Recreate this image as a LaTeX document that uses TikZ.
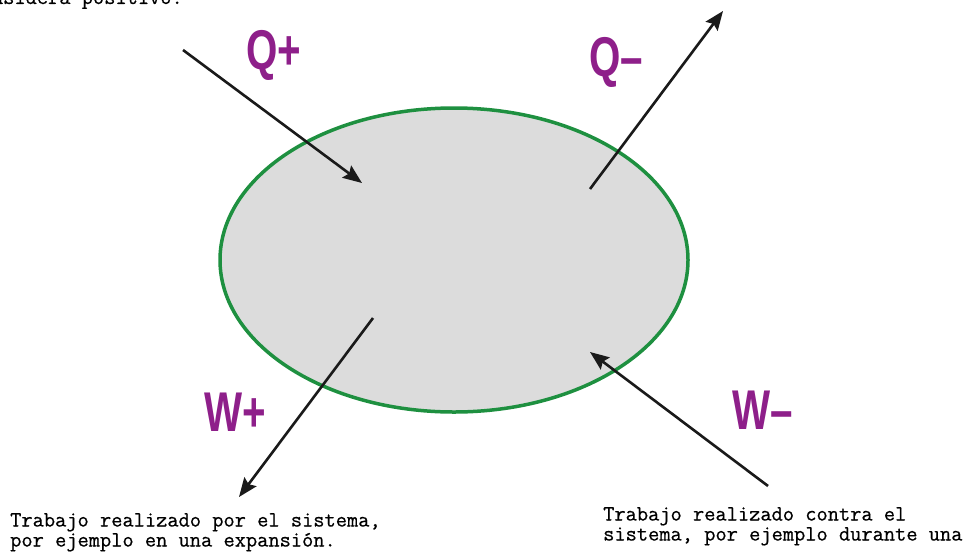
\documentclass[tikz,border=0pt]{standalone}
\usepackage{fontspec}
\usepackage{graphicx}
\usetikzlibrary{arrows.meta,shapes.geometric}
\newfontfamily\lblfont{Liberation Sans}
\newfontfamily\bodyfont[FakeBold=0.6]{Latin Modern Mono}
\definecolor{sysgreen}{HTML}{1E9040}
\definecolor{sysfill}{HTML}{DCDCDC}
\definecolor{lblpurple}{HTML}{8E1F8A}
\definecolor{arrowblack}{HTML}{1A1A1A}
\newcommand{\lbltext}[1]{\scalebox{0.72}[1]{#1}}
\tikzset{
  sysbox/.style={ellipse, draw=sysgreen, fill=sysfill, line width=3.5pt, inner sep=0pt},
  flow/.style={draw=arrowblack, line width=2.6pt, -{Stealth[length=19pt,width=15pt,inset=3pt]}},
  lbl/.style={text=lblpurple, font=\lblfont\bfseries\fontsize{56}{56}\selectfont, inner sep=0pt, anchor=base},
  body/.style={font=\bodyfont\fontsize{21.8}{20}\selectfont, align=left, inner sep=0pt}
}
\begin{document}
\begin{tikzpicture}[x=1pt,y=-1pt]
\useasboundingbox (0,0) rectangle (965,554);
\clip (0,0) rectangle (965,554);
\fill[white] (0,0) rectangle (965,554);

\node[sysbox, minimum width=468pt, minimum height=304pt] (sys) at (454,260) {};

\node[lbl] (qp) at (274,69) {\lbltext{Q+}};
\node[lbl] (qm) at (616,76) {\lbltext{Q–}};
\node[lbl] (wp) at (235,431) {\lbltext{W+}};
\node[lbl] (wm) at (763,429) {\lbltext{W–}};

\coordinate (qpS) at (183,50);
\coordinate (qpE) at (362,183);
\coordinate (qmS) at (590,189);
\coordinate (qmE) at (723,11);
\coordinate (wpS) at (373,318);
\coordinate (wpE) at (239,497);
\coordinate (wmS) at (768,486);
\coordinate (wmE) at (590,352);

\draw[flow] (qpS) -- (qpE);
\draw[flow] (qmS) -- (qmE);
\draw[flow] (wpS) -- (wpE);
\draw[flow] (wmS) -- (wmE);

\node[body, anchor=base east] (top) at (183,4) {nsidera positivo.};
\node[body, anchor=north west] (tl) at (10,513) {Trabajo realizado por el sistema,\\por ejemplo en una expansión.};
\node[body, anchor=north west] (tr) at (603,507) {Trabajo realizado contra el\\sistema, por ejemplo durante una};
\end{tikzpicture}
\end{document}
